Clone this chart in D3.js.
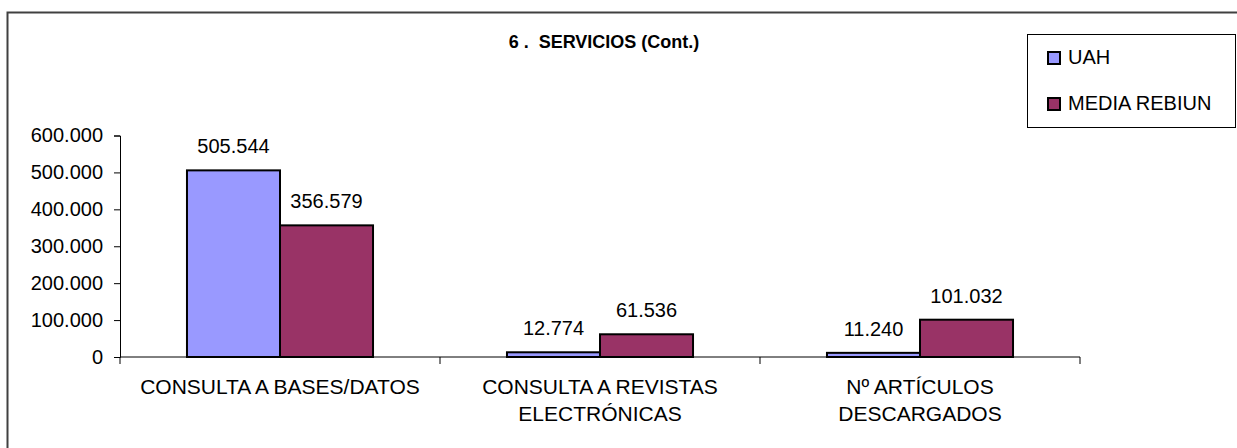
<!DOCTYPE html>
<html>
<head>
<meta charset="utf-8">
<script src="https://cdn.jsdelivr.net/npm/d3@7"></script>
<style>
  body { margin: 0; background: #fff; }
  svg { font-family: "Liberation Sans", Arial, sans-serif; }
</style>
</head>
<body>
<div class="canvas"></div>
<script>
// Chart data
const categories = [
    ['CONSULTA A BASES/DATOS'],
    ['CONSULTA A REVISTAS', 'ELECTRÓNICAS'],
    ['Nº ARTÍCULOS', 'DESCARGADOS']
];
const seriesNames = ['UAH', 'MEDIA REBIUN'];
const uahValues = [505544, 12774, 11240];
const rebiunValues = [356579, 61536, 101032];
const yTicks = [0, 100000, 200000, 300000, 400000, 500000, 600000];
const colors = ['#9999ff', '#993366'];

const width = 1237, height = 448;
const margin = { top: 135.5, left: 120, right: 157, bottom: 91 };
const plotW = width - margin.left - margin.right;
const plotH = height - margin.top - margin.bottom;
const fontSize = 20;

// Number format with dot as thousands separator
const fmt = d => d3.format(',')(d).replace(/,/g, '.');

const svg = d3.select('.canvas')
    .append('svg')
    .attr('width', width)
    .attr('height', height);

// Outer frame (only left and top visible)
svg.append('path')
    .attr('d', `M7.5,${height} V12.5 H${width}`)
    .attr('fill', 'none')
    .attr('stroke', '#404040')
    .attr('stroke-width', 2);

// Title
svg.append('text')
    .attr('x', 604)
    .attr('y', 48)
    .attr('text-anchor', 'middle')
    .attr('font-size', 18)
    .attr('font-weight', 'bold')
    .attr('xml:space', 'preserve')
    .text('6 .  SERVICIOS (Cont.)');

const graph = svg.append('g')
    .attr('transform', `translate(${margin.left}, ${margin.top})`);

// Scales
const x0 = d3.scaleBand()
    .domain(d3.range(categories.length))
    .range([0, plotW]);

const x1 = d3.scaleBand()
    .domain(seriesNames)
    .range([0, x0.bandwidth()])
    .paddingOuter(0.72);

const y = d3.scaleLinear()
    .domain([0, 600000])
    .range([plotH, 0]);

// Y axis
const yAxis = d3.axisLeft(y)
    .tickValues(yTicks)
    .tickFormat(fmt)
    .tickSizeOuter(0)
    .tickSize(6)
    .tickPadding(11);

const yAxisGroup = graph.append('g').call(yAxis);
yAxisGroup.selectAll('text').attr('font-size', fontSize).attr('fill', '#000');
yAxisGroup.selectAll('line, path').attr('stroke', '#000');

// X axis line with ticks at category boundaries
const xAxisGroup = graph.append('g')
    .attr('transform', `translate(0, ${plotH})`);
xAxisGroup.append('line')
    .attr('x1', 0).attr('x2', plotW)
    .attr('stroke', '#000');
xAxisGroup.selectAll('.tick-b')
    .data(d3.range(categories.length + 1))
    .enter()
    .append('line')
    .attr('x1', d => d * x0.bandwidth())
    .attr('x2', d => d * x0.bandwidth())
    .attr('y1', 0).attr('y2', 7)
    .attr('stroke', '#000');

// Category labels
const catLabels = xAxisGroup.selectAll('.cat')
    .data(categories)
    .enter()
    .append('text')
    .attr('text-anchor', 'middle')
    .attr('font-size', 21)
    .attr('transform', (d, i) => `translate(${x0(i) + x0.bandwidth() / 2}, 37)`);
catLabels.selectAll('tspan')
    .data(d => d)
    .enter()
    .append('tspan')
    .attr('x', 0)
    .attr('dy', (d, i) => i === 0 ? 0 : 27)
    .text(d => d);

// Bars
const rows = categories.map((c, i) => [
    { s: seriesNames[0], v: uahValues[i], c: colors[0] },
    { s: seriesNames[1], v: rebiunValues[i], c: colors[1] }
]);

const groups = graph.selectAll('.grp')
    .data(rows)
    .enter()
    .append('g')
    .attr('transform', (d, i) => `translate(${x0(i)}, 0)`);

groups.selectAll('rect')
    .data(d => d)
    .enter()
    .append('rect')
    .attr('x', d => x1(d.s))
    .attr('width', x1.bandwidth())
    .attr('y', d => y(d.v))
    .attr('height', d => plotH - y(d.v))
    .attr('fill', d => d.c)
    .attr('stroke', '#000')
    .attr('stroke-width', 2);

groups.selectAll('.lbl')
    .data(d => d)
    .enter()
    .append('text')
    .attr('x', d => x1(d.s) + x1.bandwidth() / 2)
    .attr('y', d => y(d.v) - 17)
    .attr('text-anchor', 'middle')
    .attr('font-size', fontSize)
    .text(d => fmt(d.v));

// Legend
const legend = svg.append('g');
legend.append('rect')
    .attr('x', 1027.5).attr('y', 34.5)
    .attr('width', 208).attr('height', 93)
    .attr('fill', '#fff')
    .attr('stroke', '#000');

const items = legend.selectAll('.item')
    .data(seriesNames)
    .enter()
    .append('g')
    .attr('transform', (d, i) => `translate(1048, ${52 + i * 46})`);
items.append('rect')
    .attr('width', 12).attr('height', 12)
    .attr('fill', (d, i) => colors[i])
    .attr('stroke', '#000')
    .attr('stroke-width', 2);
items.append('text')
    .attr('x', 20).attr('y', 12)
    .attr('font-size', fontSize)
    .text(d => d);
</script>
</body>
</html>
